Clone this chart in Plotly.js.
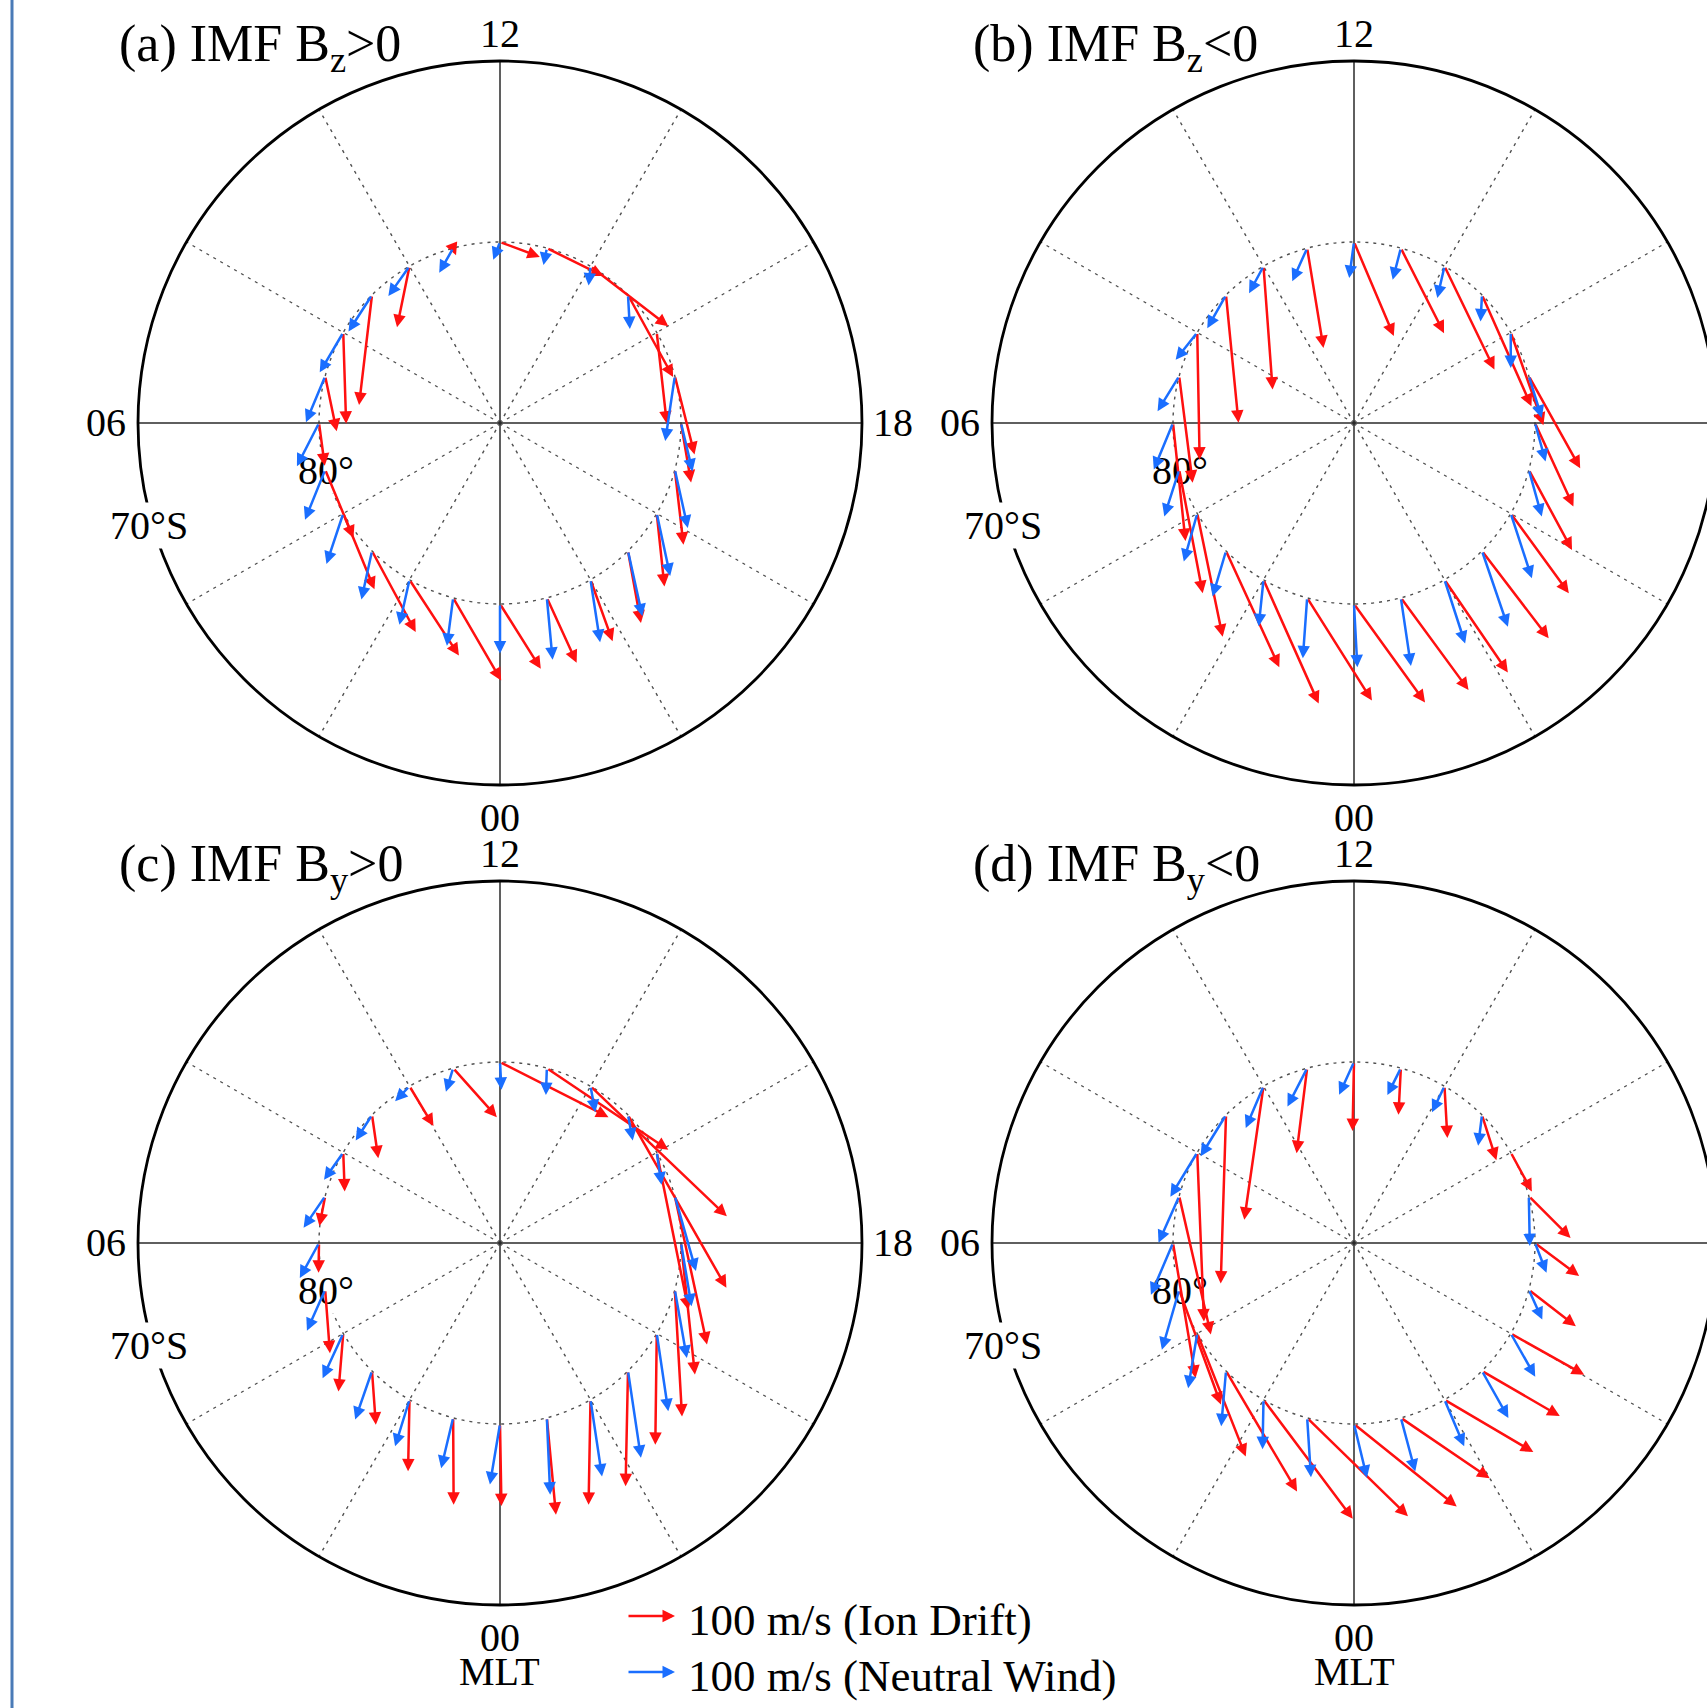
<!DOCTYPE html>
<html>
<head>
<meta charset="utf-8">
<script src="https://cdn.plot.ly/plotly-3.0.1.min.js"></script>
<style>
html,body{margin:0;padding:0;background:#ffffff;}
#chart{width:1707px;height:1708px;}
</style>
</head>
<body>
<div id="chart"></div>
<script>
// ---------------- DATA ----------------
// MLT hours of the vectors (placed on the 80° magnetic latitude circle)
const mltHours = [0,1,2,3,4,5,6,7,8,9,10,11,12,13,14,15,16,17,18,19,20,21,22,23];
const vectorLatitude = 80;           // degrees
const outerLatitude = 70;            // degrees (edge of plot)
const panelTitles = ['(a) IMF B<sub>z</sub>&gt;0', '(b) IMF B<sub>z</sub>&lt;0',
                     '(c) IMF B<sub>y</sub>&gt;0', '(d) IMF B<sub>y</sub>&lt;0'];
const hourTickLabels = ['12', '18', '00', '06'];   // top, right, bottom, left
const latTickLabels = ['80°', '70°S'];
const axisUnitLabel = 'MLT';
const legendSpeed = 100;             // m/s
const legendLabels = ['100 m/s (Ion Drift)', '100 m/s (Neutral Wind)'];

// velocity components in m/s: "Dusk" = toward 18 MLT, "Noon" = toward 12 MLT
// (a) IMF Bz>0
const aIonDusk  = [85,100,103,91,65,59,12,24,6,-27,-26,6,83,118,162,94,21,41,21,18,16,27,46,62];
const aIonNoon  = [-135,-172,-158,-169,-158,-142,-89,-115,-190,-229,-127,-15,-31,-58,-125,-171,-190,-163,-124,-156,-152,-150,-128,-135];
const aWindDusk = [0,-13,-21,-22,-35,-42,-46,-40,-49,-49,-44,-29,-14,-7,-4,4,-4,-20,24,27,28,30,20,12];
const aWindNoon = [-103,-100,-94,-101,-105,-104,-90,-96,-83,-76,-62,-51,-37,-35,-40,-71,6,-135,-101,-121,-130,-136,-130,-129];
// (b) IMF Bz<0
const bIonDusk  = [148,135,115,111,53,49,26,28,5,26,19,34,83,90,104,103,68,107,80,90,121,139,132,141];
const bIonNoon  = [-205,-214,-258,-242,-257,-257,-246,-222,-265,-266,-257,-208,-196,-177,-215,-232,-193,-192,-174,-167,-166,-182,-193,-192];
const bWindDusk = [7,-9,-10,-28,-28,-31,-40,-45,-45,-39,-30,-31,-10,-17,-15,-3,0,27,22,27,44,54,43,21];
const bWindNoon = [-132,-126,-97,-95,-100,-97,-97,-73,-57,-69,-56,-69,-75,-66,-66,-55,-74,-87,-80,-97,-135,-158,-133,-142];
// (c) IMF By>0
const cIonDusk  = [3,1,-3,8,-10,10,-1,-12,3,13,50,91,226,253,284,205,66,67,29,15,-3,-5,-4,19];
const cIonNoon  = [-171,-181,-149,-112,-121,-132,-62,-62,-81,-90,-83,-102,-115,-170,-271,-360,-328,-309,-274,-264,-232,-240,-219,-202];
const cWindDusk = [-21,-25,-30,-35,-43,-38,-40,-45,-40,-34,-30,-15,3,-2,10,10,10,44,22,25,24,27,24,7];
const cWindNoon = [-126,-105,-97,-101,-93,-85,-73,-66,-57,-53,-31,-49,-58,-56,-54,-53,-67,-156,-132,-142,-162,-181,-160,-160];
// (d) IMF By<0
const dIonDusk  = [214,210,186,148,101,87,47,66,14,-11,-40,-22,-3,-5,6,30,44,87,92,98,153,162,185,185];
const dIonNoon  = [-172,-205,-248,-251,-256,-239,-281,-288,-352,-351,-278,-177,-144,-97,-108,-94,-81,-87,-69,-76,-86,-94,-109,-126];
const dWindDusk = [27,8,-2,-10,-19,-36,-46,-43,-56,-53,-37,-41,-31,-28,-26,-8,-5,2,24,28,51,55,41,30];
const dWindNoon = [-112,-124,-103,-115,-114,-125,-108,-97,-92,-86,-87,-80,-68,-56,-54,-64,8,-104,-62,-62,-90,-98,-97,-112];

// ---------------- STYLE / LAYOUT ----------------
const W = 1707, H = 1708;
const PX = 18.1;                 // pixels per degree of colatitude
const SPAN = 24;                 // half-extent of each subplot in degrees
const ARROW_PX_PER_100 = 48;     // pixels for 100 m/s
const K = ARROW_PX_PER_100 / PX / 100;   // degrees per (m/s)
const RED = '#ff1010';
const BLUE = '#1a6eff';
const FONT = 'Liberation Serif, Times New Roman, serif';
const DOT = '#505050';
const AW = 2.5, AS = 1.0;

const panels = [
  {title: panelTitles[0], ion: [aIonDusk, aIonNoon], wind: [aWindDusk, aWindNoon], c: [500, 423], right: true,  mlt: false},
  {title: panelTitles[1], ion: [bIonDusk, bIonNoon], wind: [bWindDusk, bWindNoon], c: [1354, 423], right: false, mlt: false},
  {title: panelTitles[2], ion: [cIonDusk, cIonNoon], wind: [cWindDusk, cWindNoon], c: [500, 1243], right: true,  mlt: true},
  {title: panelTitles[3], ion: [dIonDusk, dIonNoon], wind: [dWindDusk, dWindNoon], c: [1354, 1243], right: false, mlt: true}
];

const layout = {
  width: W, height: H,
  margin: {l: 0, r: 0, t: 0, b: 0},
  paper_bgcolor: '#ffffff', plot_bgcolor: 'rgba(0,0,0,0)',
  showlegend: false,
  shapes: [], annotations: []
};
const traces = [];
const labelAnns = [];
const arrowAnns = [];

const rOuter = 90 - outerLatitude;   // 20 deg colatitude
const rVec = 90 - vectorLatitude;    // 10 deg colatitude

panels.forEach((p, i) => {
  const sfx = i === 0 ? '' : String(i + 1);
  const xa = 'x' + sfx, ya = 'y' + sfx;
  const cx = p.c[0], cy = p.c[1];
  const xL = Math.max(0, cx - SPAN * PX), xR = Math.min(W, cx + SPAN * PX);
  const yT = Math.max(0, cy - SPAN * PX), yB = Math.min(H, cy + SPAN * PX);
  layout['xaxis' + sfx] = {domain: [xL / W, xR / W], range: [(xL - cx) / PX, (xR - cx) / PX],
    visible: false, fixedrange: true, anchor: ya, showgrid: false, zeroline: false};
  layout['yaxis' + sfx] = {domain: [1 - yB / H, 1 - yT / H], range: [(cy - yB) / PX, (cy - yT) / PX],
    visible: false, fixedrange: true, anchor: xa, showgrid: false, zeroline: false};
  traces.push({type: 'scatter', x: [0], y: [0], xaxis: xa, yaxis: ya, mode: 'markers',
    marker: {size: 1, color: 'rgba(0,0,0,0)'}, hoverinfo: 'skip'});

  // dotted spokes every 2 h (except the axes)
  [1, 2, 4, 5, 7, 8, 10, 11].forEach(k => {
    const th = k * 30 * Math.PI / 180;
    layout.shapes.push({type: 'line', xref: xa, yref: ya, x0: 0, y0: 0,
      x1: rOuter * Math.sin(th), y1: rOuter * Math.cos(th),
      line: {color: DOT, width: 1.4, dash: '3px,5px'}});
  });
  // dotted 80° circle
  layout.shapes.push({type: 'circle', xref: xa, yref: ya, x0: -rVec, x1: rVec, y0: -rVec, y1: rVec,
    line: {color: DOT, width: 1.4, dash: '3px,5px'}});
  // axes
  layout.shapes.push({type: 'line', xref: xa, yref: ya, x0: 0, y0: -rOuter, x1: 0, y1: rOuter,
    line: {color: '#2a2a2a', width: 1.5}});
  layout.shapes.push({type: 'line', xref: xa, yref: ya, x0: -rOuter, y0: 0, x1: rOuter, y1: 0,
    line: {color: '#2a2a2a', width: 1.5}});
  // outer circle
  layout.shapes.push({type: 'circle', xref: xa, yref: ya, x0: -rOuter, x1: rOuter, y0: -rOuter, y1: rOuter,
    line: {color: '#000000', width: 2.8}});

  const txt = (text, x, y, size, xanchor, bg) => ({
    xref: xa, yref: ya, x: x, y: y, text: text, showarrow: false,
    xanchor: xanchor || 'center', yanchor: 'middle',
    font: {family: FONT, size: size, color: '#000'},
    bgcolor: bg || 'rgba(0,0,0,0)', borderpad: 0
  });
  labelAnns.push(txt(hourTickLabels[0], 0, 21.5, 40));
  labelAnns.push(txt(hourTickLabels[2], 0, -21.8, 40));
  labelAnns.push(txt(hourTickLabels[3], -21.75, 0.05, 40));
  if (p.right) labelAnns.push(txt(hourTickLabels[1], 21.7, 0.05, 40));
  if (p.mlt) labelAnns.push(txt(axisUnitLabel, 0, -23.7, 40));
  labelAnns.push(txt(latTickLabels[0], -9.6, -2.65, 40, 'center', '#ffffff'));
  labelAnns.push(txt(latTickLabels[1], -19.4, -5.65, 40, 'center', '#ffffff'));
  labelAnns.push(txt(p.title, -21.1, 20.75, 52, 'left'));

  // vectors
  const addVec = (vd, vn, color) => {
    mltHours.forEach((h, j) => {
      const th = (h - 12) * 15 * Math.PI / 180;
      const bx = rVec * Math.sin(th), by = rVec * Math.cos(th);
      arrowAnns.push({xref: xa, yref: ya, axref: xa, ayref: ya,
        x: bx + K * vd[j], y: by + K * vn[j], ax: bx, ay: by,
        text: '', showarrow: true, arrowhead: 2, arrowsize: AS, arrowwidth: AW,
        arrowcolor: color, standoff: 0, startstandoff: 0});
    });
  };
  addVec(p.ion[0], p.ion[1], RED);
  addVec(p.wind[0], p.wind[1], BLUE);
});

// legend
const legLen = legendSpeed * ARROW_PX_PER_100 / 100;
[[RED, 1616, legendLabels[0], 1620], [BLUE, 1672, legendLabels[1], 1676]].forEach(([col, ay, lab, ty]) => {
  arrowAnns.push({xref: 'paper', yref: 'paper', x: 675 / W, y: 1 - ay / H, axref: 'pixel', ayref: 'pixel',
    ax: -legLen, ay: 0, text: '', showarrow: true, arrowhead: 2, arrowsize: AS, arrowwidth: AW,
    arrowcolor: col, standoff: 0});
  labelAnns.push({xref: 'paper', yref: 'paper', x: 686 / W, y: 1 - ty / H, text: lab, showarrow: false,
    xanchor: 'left', yanchor: 'middle', font: {family: FONT, size: 45, color: '#000'}});
});

// left border line
layout.shapes.push({type: 'line', xref: 'paper', yref: 'paper', x0: 12 / W, x1: 12 / W, y0: 0, y1: 1,
  line: {color: '#4a7bb7', width: 3}});

layout.annotations = labelAnns.concat(arrowAnns);

Plotly.newPlot('chart', traces, layout, {staticPlot: true, displayModeBar: false});
</script>
</body>
</html>
